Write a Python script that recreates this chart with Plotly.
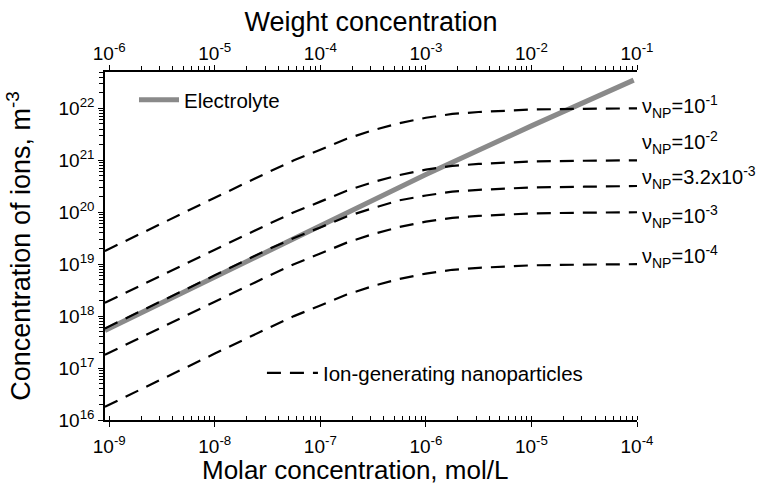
import plotly.graph_objects as go

# ---------------- data ----------------
molar_np = [9.1e-10, 3.16e-9, 1e-8, 3.16e-8, 5.62e-8, 1e-7, 1.78e-7, 3.16e-7,
            5.62e-7, 1e-6, 1.78e-6, 3.16e-6, 1e-5, 3.16e-5, 1e-4]

nu_1e_1 = [1.8e19, 6.2e19, 1.9e20, 5.8e20, 1.0e21, 1.6e21, 2.6e21, 3.8e21,
           5.2e21, 6.6e21, 7.8e21, 8.5e21, 9.5e21, 9.8e21, 1.0e22]
nu_1e_2 = [1.8e18, 6.2e18, 1.9e19, 5.8e19, 1.0e20, 1.6e20, 2.6e20, 3.8e20,
           5.2e20, 6.6e20, 7.8e20, 8.5e20, 9.5e20, 9.8e20, 1.0e21]
nu_32e_4 = [5.8e17, 2.0e18, 6.1e18, 1.9e19, 3.2e19, 5.1e19, 8.3e19, 1.2e20,
            1.7e20, 2.1e20, 2.5e20, 2.7e20, 3.0e20, 3.1e20, 3.2e20]
nu_1e_3 = [1.8e17, 6.2e17, 1.9e18, 5.8e18, 1.0e19, 1.6e19, 2.6e19, 3.8e19,
           5.2e19, 6.6e19, 7.8e19, 8.5e19, 9.5e19, 9.8e19, 1.0e20]
nu_1e_4 = [1.8e16, 6.2e16, 1.9e17, 5.8e17, 1.0e18, 1.6e18, 2.6e18, 3.8e18,
           5.2e18, 6.6e18, 7.8e18, 8.5e18, 9.5e18, 9.8e18, 1.0e19]

molar_el = [9.1e-10, 1e-8, 1e-7, 1e-6, 1e-5, 3.16e-5, 9.3e-5]
electrolyte = [5.3e17, 5.7e18, 5.6e19, 5.3e20, 4.6e21, 1.3e22, 3.5e22]

curve_sets = [nu_1e_1, nu_1e_2, nu_32e_4, nu_1e_3, nu_1e_4]
curve_labels = ["ν<sub>NP</sub>=10<sup>-1</sup>", "ν<sub>NP</sub>=10<sup>-2</sup>",
                "ν<sub>NP</sub>=3.2x10<sup>-3</sup>", "ν<sub>NP</sub>=10<sup>-3</sup>",
                "ν<sub>NP</sub>=10<sup>-4</sup>"]

molar_ticks = [1e-9, 1e-8, 1e-7, 1e-6, 1e-5, 1e-4]
molar_ticktext = ["10<sup>-9</sup>", "10<sup>-8</sup>", "10<sup>-7</sup>",
                  "10<sup>-6</sup>", "10<sup>-5</sup>", "10<sup>-4</sup>"]
weight_ticks = [1e-6, 1e-5, 1e-4, 1e-3, 1e-2, 1e-1]
weight_ticktext = ["10<sup>-6</sup>", "10<sup>-5</sup>", "10<sup>-4</sup>",
                   "10<sup>-3</sup>", "10<sup>-2</sup>", "10<sup>-1</sup>"]
ion_ticks = [1e16, 1e17, 1e18, 1e19, 1e20, 1e21, 1e22]
ion_ticktext = ["10<sup>16</sup>", "10<sup>17</sup>", "10<sup>18</sup>", "10<sup>19</sup>",
                "10<sup>20</sup>", "10<sup>21</sup>", "10<sup>22</sup>"]

# label anchor heights (log10 of ion concentration) for right-side annotations
label_y = [22.03, 21.34, 20.66, 19.91, 19.14]

FONT = "Liberation Sans, Arial, sans-serif"

fig = go.Figure()

fig.add_trace(go.Scatter(
    x=molar_el, y=electrolyte, mode="lines", name="Electrolyte",
    line=dict(color="#8a8a8a", width=5), legend="legend", showlegend=True))

for i, ys in enumerate(curve_sets):
    fig.add_trace(go.Scatter(
        x=molar_np, y=ys, mode="lines", name="Ion-generating nanoparticles",
        line=dict(color="black", width=2.2, dash="14px,9px"),
        showlegend=(i == 0), legend="legend2"))

# carrier trace so that the top (weight concentration) axis is drawn
fig.add_trace(go.Scatter(
    x=weight_ticks, y=[None] * len(weight_ticks), xaxis="x2", mode="lines",
    showlegend=False, hoverinfo="skip"))

for txt, ly in zip(curve_labels, label_y):
    fig.add_annotation(x=1, xref="paper", y=ly, yref="y", text=txt,
                       showarrow=False, xanchor="left", yanchor="middle",
                       xshift=3, font=dict(size=20, color="black", family=FONT))

tickfont = dict(size=19, color="black", family=FONT)
titlefont = dict(size=27, color="black", family=FONT)

# bottom axis title as an annotation (it sits slightly left of centre in the reference)
fig.add_annotation(x=0.47, xref="paper", y=-0.1437, yref="paper",
                   text="Molar concentration, mol/L", showarrow=False,
                   xanchor="center", yanchor="middle",
                   font=dict(size=26, color="black", family=FONT))

fig.update_layout(
    width=759, height=488,
    margin=dict(l=105, r=122, t=72, b=68),
    paper_bgcolor="white", plot_bgcolor="white",
    font=dict(family=FONT, color="black"),
    showlegend=True,
    xaxis=dict(
        type="log", range=[-9.04, -4.0],
        tickvals=molar_ticks, ticktext=molar_ticktext, tickfont=tickfont,
        ticks="outside", ticklen=5, tickwidth=1.3, tickcolor="black",
        ticklabelstandoff=3,
        minor=dict(dtick="D1", ticks="inside", ticklen=4, tickwidth=1, tickcolor="black", showgrid=False),
        showline=True, linecolor="black", linewidth=1.5, showgrid=False, zeroline=False,
    ),
    xaxis2=dict(
        type="log", range=[-6.04, -1.0], overlaying="x", side="top", anchor="y",
        tickvals=weight_ticks, ticktext=weight_ticktext, tickfont=tickfont,
        ticks="outside", ticklen=5, tickwidth=1.3, tickcolor="black",
        ticklabelstandoff=-2,
        minor=dict(dtick="D1", ticks="outside", ticklen=4, tickwidth=1, tickcolor="black", showgrid=False),
        showline=True, linecolor="black", linewidth=1.5, showgrid=False, zeroline=False,
        title=dict(text="Weight concentration", font=titlefont, standoff=0),
    ),
    yaxis=dict(
        type="log", range=[16.0, 22.7],
        tickvals=ion_ticks, ticktext=ion_ticktext, tickfont=tickfont,
        ticks="outside", ticklen=5, tickwidth=1.3, tickcolor="black",
        minor=dict(dtick="D1", ticks="outside", ticklen=4, tickwidth=1, tickcolor="black", showgrid=False),
        showline=True, linecolor="black", linewidth=1.5, showgrid=False, zeroline=False,
        title=dict(text="Concentration of ions, m<sup>-3</sup>", font=titlefont, standoff=20),
    ),
    yaxis2=dict(
        type="log", range=[16.0, 22.7], overlaying="y", side="right", anchor="x",
        showline=True, linecolor="#777777", linewidth=1.5, ticks="",
        showticklabels=False, showgrid=False, zeroline=False,
    ),
    legend=dict(x=0.0545, y=0.92, xanchor="left", yanchor="middle", itemwidth=40,
                bgcolor="rgba(0,0,0,0)", font=dict(size=20.5, family=FONT, color="black")),
    legend2=dict(x=0.295, y=0.135, xanchor="left", yanchor="middle", itemwidth=51,
                 bgcolor="rgba(0,0,0,0)", font=dict(size=20.5, family=FONT, color="black")),
)

fig.write_html("out.html")
